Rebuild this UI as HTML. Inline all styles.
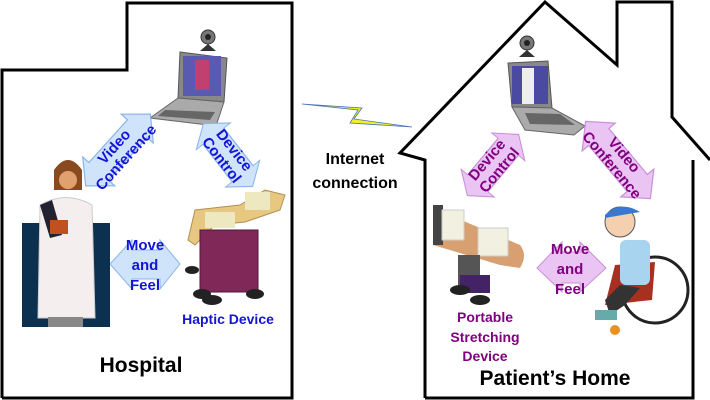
<!DOCTYPE html>
<html><head><meta charset="utf-8"><style>
html,body{margin:0;padding:0;background:#fff;width:710px;height:400px;overflow:hidden}
svg{display:block}
text{font-family:"Liberation Sans",Arial,sans-serif;font-weight:bold}
</style></head><body>
<svg width="710" height="400" viewBox="0 0 710 400" xmlns="http://www.w3.org/2000/svg">
<defs>
<g id="dbl"><polygon points="-42,0 -25,-18 -25,-11 25,-11 25,-18 42,0 25,18 25,11 -25,11 -25,18"/></g>
</defs>
<!-- hospital outline -->
<polyline points="2,398 2,70 127,70 127,3 292,3 292,398 2,398" fill="none" stroke="#000" stroke-width="3"/>
<!-- home outline -->
<polyline points="425,398 425,160 400,153 545,2 617,65 617,2 672,2 672,117 710,160" fill="none" stroke="#000" stroke-width="3"/>
<polyline points="693,160 693,398 425,398" fill="none" stroke="#000" stroke-width="3"/>

<!-- lightning -->
<polygon points="302,104 358,110 350,123 412,127 354,119 362,108 302,104" fill="#f2f020" stroke="#4a70c0" stroke-width="0.8"/>
<text x="355" y="164" font-size="16" text-anchor="middle">Internet</text>
<text x="355" y="188" font-size="16" text-anchor="middle">connection</text>

<!-- left laptop -->
<circle cx="208" cy="37" r="7" fill="#777" stroke="#333"/><circle cx="208" cy="37" r="3" fill="#222"/>
<polygon points="200,51 216,51 208,44" fill="#333"/>
<polygon points="180,52 227,58 224,102 178,98" fill="#888" stroke="#555"/>
<rect x="183" y="56" width="38" height="40" fill="#5a5ab0"/>
<rect x="195" y="60" width="14" height="30" fill="#c04070"/>
<polygon points="178,98 224,102 216,126 150,118" fill="#aaa" stroke="#666"/>
<polygon points="165,110 215,112 210,120 158,116" fill="#666"/>

<!-- right laptop -->
<circle cx="527" cy="43" r="7" fill="#777" stroke="#333"/><circle cx="527" cy="43" r="3" fill="#222"/>
<polygon points="519,57 535,57 527,50" fill="#333"/>
<polygon points="508,63 548,61 552,108 512,107" fill="#888" stroke="#555"/>
<rect x="512" y="66" width="36" height="38" fill="#4a4aa0"/>
<rect x="522" y="68" width="12" height="36" fill="#eee"/>
<polygon points="512,107 552,108 585,126 574,135 525,130" fill="#aaa" stroke="#666"/>
<polygon points="525,113 560,114 575,125 530,124" fill="#666"/>

<!-- left arrows (blue) -->
<g fill="#cfe4fb" stroke="#8ab4e8" stroke-width="1">
<use href="#dbl" transform="translate(118,150) rotate(-48) scale(1.15,1.2)"/>
<use href="#dbl" transform="translate(228,155) rotate(52) scale(0.95,1.2)"/>
<polygon points="110,264 132,240 132,250 160,250 160,240 180,264 160,289 160,279 132,279 132,289"/>
</g>
<g fill="#1414d8" font-size="15">
<text transform="translate(120,152) rotate(-48)" text-anchor="middle" y="-3">Video</text>
<text transform="translate(120,152) rotate(-48)" text-anchor="middle" y="13">Conference</text>
<text transform="translate(228,155) rotate(52)" text-anchor="middle" y="-3">Device</text>
<text transform="translate(228,155) rotate(52)" text-anchor="middle" y="13">Control</text>
<text x="145" y="250" text-anchor="middle" font-size="15">Move</text>
<text x="145" y="270" text-anchor="middle" font-size="15">and</text>
<text x="145" y="290" text-anchor="middle" font-size="15">Feel</text>
<text x="228" y="324" text-anchor="middle" font-size="14">Haptic Device</text>
</g>

<!-- doctor -->
<rect x="22" y="223" width="88" height="104" fill="#0c3050"/>
<path d="M40,205 Q66,190 92,205 L95,318 L38,318 Z" fill="#f4eeee" stroke="#ccc"/>
<rect x="48" y="317" width="35" height="10" fill="#888"/>
<path d="M54,170 Q68,150 82,170 L82,190 L54,190Z" fill="#8a4a20"/>
<circle cx="68" cy="180" r="9" fill="#e0a070"/>
<polygon points="40,205 52,200 62,235 50,238" fill="#223"/>
<rect x="50" y="220" width="18" height="14" fill="#c05020"/>

<!-- haptic device -->
<path d="M195,210 L240,205 L265,190 L285,195 L280,210 L245,222 L215,225 L195,245 L188,240Z" fill="#e8c880" stroke="#b09050"/>
<rect x="205" y="212" width="30" height="16" fill="#eee8c0"/>
<rect x="245" y="192" width="25" height="18" fill="#eee8c0"/>
<rect x="200" y="230" width="58" height="62" fill="#802858" stroke="#501838"/>
<ellipse cx="202" cy="294" rx="9" ry="5" fill="#222"/><ellipse cx="255" cy="294" rx="9" ry="5" fill="#222"/>
<ellipse cx="212" cy="300" rx="10" ry="5" fill="#222"/><ellipse cx="192" cy="270" rx="7" ry="4" fill="#222"/>

<!-- right arrows (purple) -->
<g fill="#eac4f2" stroke="#c890d8" stroke-width="1">
<use href="#dbl" transform="translate(493,165) rotate(-50) scale(0.95,1.2)"/>
<use href="#dbl" transform="translate(618,160) rotate(50) scale(1.2,1.2)"/>
<polygon points="537,268 562,242 562,252 580,252 580,242 606,268 580,292 580,283 562,283 562,292"/>
</g>
<g fill="#800080" font-size="15">
<text transform="translate(493,165) rotate(-50)" text-anchor="middle" y="-3">Device</text>
<text transform="translate(493,165) rotate(-50)" text-anchor="middle" y="13">Control</text>
<text transform="translate(618,160) rotate(50)" text-anchor="middle" y="-3">Video</text>
<text transform="translate(618,160) rotate(50)" text-anchor="middle" y="13">Conference</text>
<text x="570" y="254" text-anchor="middle" font-size="15">Move</text>
<text x="570" y="274" text-anchor="middle" font-size="15">and</text>
<text x="570" y="294" text-anchor="middle" font-size="15">Feel</text>
<text x="485" y="322" text-anchor="middle" font-size="14">Portable</text>
<text x="485" y="342" text-anchor="middle" font-size="14">Stretching</text>
<text x="485" y="361" text-anchor="middle" font-size="14">Device</text>
</g>

<!-- stretching device -->
<path d="M433,208 L520,245 Q528,255 520,268 L500,265 L433,245Z" fill="#d8a070"/>
<rect x="433" y="205" width="10" height="40" fill="#444"/>
<rect x="442" y="210" width="22" height="30" fill="#f2f0e0" stroke="#ccc"/>
<rect x="478" y="228" width="30" height="28" fill="#f2f0e0" stroke="#ccc"/>
<rect x="458" y="255" width="22" height="30" fill="#555"/>
<rect x="460" y="275" width="30" height="18" fill="#442266"/>
<ellipse cx="460" cy="290" rx="10" ry="5" fill="#222"/><ellipse cx="480" cy="300" rx="10" ry="5" fill="#222"/>

<!-- wheelchair boy -->
<circle cx="655" cy="290" r="33" fill="none" stroke="#222" stroke-width="3"/>
<path d="M615,265 L655,262 L652,300 L605,305Z" fill="#a83020"/>
<rect x="620" y="240" width="30" height="45" rx="6" fill="#a8d4f0"/>
<path d="M605,300 L620,285 L640,288 L625,305 L610,315Z" fill="#333"/>
<rect x="595" y="310" width="22" height="10" fill="#6aa"/>
<circle cx="620" cy="222" r="15" fill="#f4d0b0" stroke="#555"/>
<path d="M605,215 Q620,200 640,212 L605,218Z" fill="#3a78d0"/>
<circle cx="615" cy="330" r="5" fill="#e89020"/>

<text x="141" y="372" font-size="21" text-anchor="middle" fill="#000">Hospital</text>
<text x="555" y="385" font-size="21" text-anchor="middle" fill="#000">Patient’s Home</text>
</svg>
</body></html>
